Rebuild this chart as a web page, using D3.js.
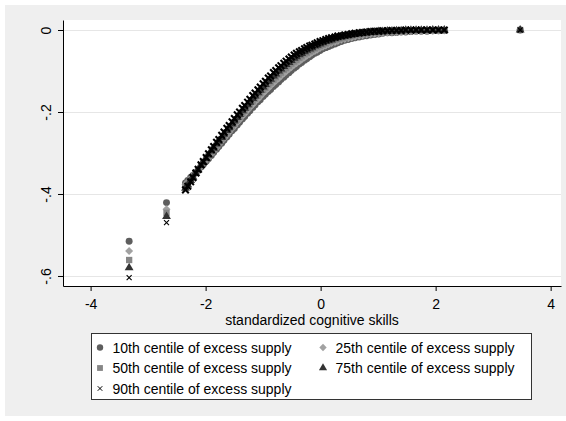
<!DOCTYPE html>
<html>
<head>
<meta charset="utf-8">
<script src="https://cdn.jsdelivr.net/npm/d3@7"></script>
<style>
  body { margin: 0; background: #fff; }
  svg { display: block; font-family: "Liberation Sans", Arial, sans-serif; }
</style>
</head>
<body>
<svg id="chart" width="566" height="421"></svg>
<script>
// standardized cognitive skills (x) and predicted effect at each centile of excess supply
var skill = [
  -3.33, -2.68, -2.35, -2.31, -2.26, -2.22, -2.17, -2.13, -2.08, -2.04,
  -1.99, -1.95, -1.90, -1.86, -1.81, -1.77, -1.72, -1.68, -1.63, -1.59,
  -1.54, -1.50, -1.45, -1.41, -1.36, -1.32, -1.27, -1.23, -1.18, -1.14,
  -1.09, -1.05, -1.00, -0.96, -0.91, -0.87, -0.82, -0.78, -0.73, -0.69,
  -0.64, -0.60, -0.55, -0.51, -0.46, -0.42, -0.37, -0.33, -0.28, -0.24,
  -0.19, -0.15, -0.10, -0.06, -0.01, 0.04, 0.09, 0.14, 0.19, 0.25,
  0.30, 0.36, 0.42, 0.48, 0.54, 0.60, 0.67, 0.73, 0.80, 0.87,
  0.94, 1.01, 1.08, 1.16, 1.24, 1.32, 1.40, 1.48, 1.57, 1.66,
  1.75, 1.85, 1.95, 2.05, 2.15, 3.47
];
var p10 = [
  -0.515, -0.421, -0.373, -0.367, -0.360, -0.355, -0.347, -0.342, -0.334, -0.328,
  -0.320, -0.314, -0.306, -0.299, -0.291, -0.284, -0.276, -0.269, -0.261, -0.254,
  -0.246, -0.240, -0.232, -0.225, -0.217, -0.211, -0.203, -0.197, -0.189, -0.183,
  -0.175, -0.170, -0.162, -0.157, -0.150, -0.145, -0.138, -0.133, -0.127, -0.121,
  -0.115, -0.110, -0.104, -0.099, -0.093, -0.089, -0.083, -0.079, -0.074, -0.070,
  -0.065, -0.061, -0.057, -0.054, -0.050, -0.046, -0.043, -0.040, -0.037, -0.034,
  -0.031, -0.028, -0.025, -0.023, -0.021, -0.019, -0.017, -0.015, -0.014, -0.012,
  -0.011, -0.010, -0.008, -0.007, -0.007, -0.006, -0.005, -0.005, -0.004, -0.003,
  -0.003, -0.003, -0.002, -0.002, -0.001, 0
];
var p25 = [
  -0.539, -0.437, -0.377, -0.371, -0.363, -0.356, -0.348, -0.341, -0.333, -0.326,
  -0.317, -0.311, -0.302, -0.295, -0.287, -0.280, -0.271, -0.264, -0.256, -0.249,
  -0.240, -0.234, -0.225, -0.219, -0.210, -0.204, -0.196, -0.189, -0.182, -0.175,
  -0.168, -0.162, -0.154, -0.149, -0.142, -0.136, -0.129, -0.124, -0.118, -0.112,
  -0.106, -0.101, -0.095, -0.091, -0.085, -0.081, -0.076, -0.072, -0.067, -0.063,
  -0.059, -0.055, -0.051, -0.048, -0.044, -0.041, -0.038, -0.035, -0.032, -0.029,
  -0.027, -0.024, -0.022, -0.020, -0.018, -0.016, -0.014, -0.013, -0.011, -0.010,
  -0.009, -0.008, -0.007, -0.006, -0.005, -0.005, -0.004, -0.003, -0.003, -0.003,
  -0.002, -0.002, -0.002, -0.001, -0.001, 0
];
var p50 = [
  -0.561, -0.446, -0.382, -0.374, -0.365, -0.358, -0.348, -0.341, -0.332, -0.324,
  -0.315, -0.308, -0.299, -0.291, -0.282, -0.275, -0.266, -0.259, -0.250, -0.243,
  -0.235, -0.228, -0.219, -0.212, -0.204, -0.197, -0.189, -0.182, -0.174, -0.168,
  -0.160, -0.154, -0.146, -0.141, -0.133, -0.128, -0.121, -0.115, -0.109, -0.104,
  -0.097, -0.093, -0.087, -0.082, -0.077, -0.073, -0.068, -0.064, -0.059, -0.056,
  -0.052, -0.049, -0.045, -0.042, -0.039, -0.036, -0.033, -0.030, -0.028, -0.025,
  -0.023, -0.021, -0.019, -0.017, -0.015, -0.013, -0.012, -0.010, -0.009, -0.008,
  -0.007, -0.006, -0.005, -0.005, -0.004, -0.003, -0.003, -0.002, -0.002, -0.002,
  -0.001, -0.001, -0.001, -0.001, -0.001, 0
];
var p75 = [
  -0.580, -0.455, -0.386, -0.378, -0.367, -0.359, -0.349, -0.341, -0.330, -0.323,
  -0.313, -0.305, -0.295, -0.288, -0.278, -0.271, -0.262, -0.254, -0.245, -0.238,
  -0.229, -0.222, -0.213, -0.206, -0.197, -0.191, -0.182, -0.176, -0.167, -0.161,
  -0.153, -0.147, -0.139, -0.133, -0.125, -0.120, -0.112, -0.107, -0.100, -0.095,
  -0.089, -0.084, -0.079, -0.074, -0.069, -0.065, -0.060, -0.057, -0.053, -0.049,
  -0.046, -0.043, -0.039, -0.037, -0.034, -0.031, -0.028, -0.026, -0.024, -0.021,
  -0.019, -0.017, -0.015, -0.014, -0.012, -0.011, -0.009, -0.008, -0.007, -0.006,
  -0.005, -0.004, -0.004, -0.003, -0.003, -0.002, -0.002, -0.001, -0.001, -0.001,
  -0.001, -0.001, 0, 0, 0, 0
];
var p90 = [
  -0.604, -0.470, -0.390, -0.381, -0.370, -0.360, -0.349, -0.340, -0.329, -0.321,
  -0.311, -0.302, -0.292, -0.284, -0.274, -0.267, -0.257, -0.249, -0.240, -0.233,
  -0.224, -0.216, -0.207, -0.200, -0.191, -0.184, -0.176, -0.169, -0.160, -0.154,
  -0.146, -0.139, -0.131, -0.125, -0.117, -0.112, -0.104, -0.099, -0.092, -0.087,
  -0.081, -0.076, -0.071, -0.066, -0.061, -0.057, -0.053, -0.050, -0.046, -0.043,
  -0.039, -0.037, -0.034, -0.031, -0.028, -0.026, -0.023, -0.021, -0.019, -0.017,
  -0.015, -0.014, -0.012, -0.011, -0.009, -0.008, -0.007, -0.006, -0.005, -0.004,
  -0.003, -0.003, -0.002, -0.002, -0.001, -0.001, -0.001, 0, 0, 0,
  0, 0, 0, 0, 0, 0
];
var seriesNames = [
  "10th centile of excess supply",
  "25th centile of excess supply",
  "50th centile of excess supply",
  "75th centile of excess supply",
  "90th centile of excess supply"
];
var xTicks = [-4, -2, 0, 2, 4];
var yTicks = [0, -0.2, -0.4, -0.6];
var yTickLabels = ["0", "-.2", "-.4", "-.6"];
var xTitle = "standardized cognitive skills";

var svg = d3.select("#chart");

// graph region + plot region
svg.append("rect").attr("x", 5).attr("y", 5).attr("width", 561).attr("height", 411).attr("fill", "#efefef");
svg.append("rect").attr("x", 63).attr("y", 20).attr("width", 498).attr("height", 266).attr("fill", "#fff");

var x = d3.scaleLinear().domain([-4.48, 4.18]).range([63, 561]);
var y = d3.scaleLinear().domain([-0.6244, 0.0244]).range([286, 20]);

svg.selectAll(".grid")
    .data(yTicks)
    .enter().append("line")
    .attr("class", "grid")
    .attr("x1", 63).attr("x2", 561)
    .attr("y1", function(d) {return Math.round(y(d)) + 0.5})
    .attr("y2", function(d) {return Math.round(y(d)) + 0.5})
    .attr("stroke", "#e6e6e6");

var styles = [
  {values: p10, type: d3.symbolCircle, size: 38, color: "#5e5e5e", rot: 0},
  {values: p25, type: d3.symbolSquare, size: 32, color: "#a2a2a2", rot: 45},
  {values: p50, type: d3.symbolSquare, size: 40, color: "#868686", rot: 0},
  {values: p75, type: d3.symbolTriangle, size: 34, color: "#333", rot: 0},
  {values: p90, type: d3.symbolTimes, size: 18, color: "#000", rot: 0, stroke: true}
];

styles.forEach(function(s, k) {
  var pts = skill.map(function(v, i) {return [v, s.values[i]]});
  // the dense curve gets heavier x marks, the isolated points keep the thin ones
  svg.append("g").selectAll("path")
      .data(pts)
      .enter().append("path")
      .attr("d", function(d, i) {
        var big = s.stroke && i > 1 && i < pts.length - 1;
        return d3.symbol(s.type, big ? 30 : s.size)();
      })
      .attr("transform", function(d) {
        return "translate(" + x(d[0]) + "," + y(d[1]) + ")" + (s.rot ? " rotate(" + s.rot + ")" : "");
      })
      .attr("fill", s.stroke ? "none" : s.color)
      .attr("stroke", s.stroke ? s.color : "none")
      .attr("stroke-width", function(d, i) {
        if (!s.stroke) return 0;
        return (i > 1 && i < pts.length - 1) ? 2.1 : 1.1;
      });
});

// axes
var xAxis = d3.axisBottom(x).tickValues(xTicks).tickSize(5).tickSizeOuter(0).tickPadding(8)
    .tickFormat(function(d) {return String(d)});
var gx = svg.append("g").attr("transform", "translate(0,286)").call(xAxis);
gx.attr("font-family", null).attr("font-size", 14);
gx.selectAll("text").attr("fill", "#000");

var yAxis = d3.axisLeft(y).tickValues(yTicks).tickSize(5).tickSizeOuter(0)
    .tickFormat(function(d, i) {return yTickLabels[i]});
var gy = svg.append("g").attr("transform", "translate(63,0)").call(yAxis);
gy.attr("font-family", null).attr("font-size", 14);
gy.selectAll("text")
    .attr("transform", "rotate(-90)")
    .attr("x", 0).attr("y", -12.5).attr("dy", 0)
    .attr("text-anchor", "middle")
    .attr("fill", "#000");

svg.append("text")
    .attr("x", 312).attr("y", 325)
    .attr("text-anchor", "middle")
    .attr("font-size", 14)
    .text(xTitle);

// legend
svg.append("rect").attr("x", 91.5).attr("y", 333.5).attr("width", 440).attr("height", 66)
    .attr("fill", "#fff").attr("stroke", "#333");
var colX = [100, 323];
var rowY = [352.5, 373, 393.5];
var leg = svg.append("g").selectAll("g")
    .data(styles)
    .enter().append("g")
    .attr("transform", function(d, i) {return "translate(" + colX[i % 2] + "," + rowY[Math.floor(i / 2)] + ")"});
leg.append("path")
    .attr("d", function(d) {return d3.symbol(d.type, d.size * 0.85)()})
    .attr("transform", function(d) {return "translate(0,-5)" + (d.rot ? " rotate(" + d.rot + ")" : "")})
    .attr("fill", function(d) {return d.stroke ? "none" : d.color})
    .attr("stroke", function(d) {return d.stroke ? d.color : "none"});
leg.append("text")
    .attr("x", 12.5)
    .attr("font-size", 14)
    .text(function(d, i) {return seriesNames[i]});
</script>
</body>
</html>
